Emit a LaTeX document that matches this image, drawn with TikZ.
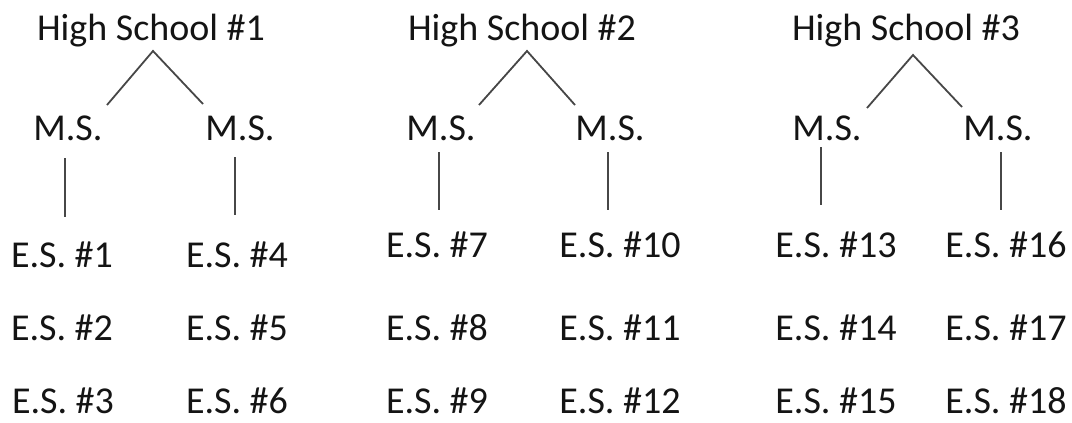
\documentclass[tikz,border=0pt]{standalone}
\usepackage{fontspec}
\setmainfont{Carlito}
\begin{document}
\begin{tikzpicture}[x=1pt,y=-1pt,
  lbl/.style={anchor=base, inner sep=0pt, font=\fontsize{38}{42}\selectfont, text=black!92},
  conn/.style={line width=1.8pt, draw=black!72}]
\useasboundingbox (0,0) rectangle (1072,423);
% Tree 1
\node[lbl] (hs1) at (151,40) {High School \#1};
\node[lbl] (ms1a) at (68,140) {M.S.};
\node[lbl] (ms1b) at (240,140) {M.S.};
\node[lbl] (es1) at (62,267) {E.S. \#1};
\node[lbl] (es2) at (62,340) {E.S. \#2};
\node[lbl] (es3) at (63,413) {E.S. \#3};
\node[lbl] (es4) at (237,267) {E.S. \#4};
\node[lbl] (es5) at (237,340) {E.S. \#5};
\node[lbl] (es6) at (237,413) {E.S. \#6};
\coordinate (t1) at (153,51);
\coordinate (t1l) at (107,105);
\coordinate (t1r) at (203,104);
\coordinate (v1a) at (65,158); \coordinate (v1ab) at (65,217);
\coordinate (v1b) at (235,157); \coordinate (v1bb) at (235,215);
\draw[conn] (t1l) -- (t1) -- (t1r);
\draw[conn] (v1a) -- (v1ab);
\draw[conn] (v1b) -- (v1bb);
% Tree 2
\node[lbl] (hs2) at (522,40) {High School \#2};
\node[lbl] (ms2a) at (441,140) {M.S.};
\node[lbl] (ms2b) at (610,140) {M.S.};
\node[lbl] (es7) at (437,257) {E.S. \#7};
\node[lbl] (es8) at (437,340) {E.S. \#8};
\node[lbl] (es9) at (437,413) {E.S. \#9};
\node[lbl] (es10) at (620,257) {E.S. \#10};
\node[lbl] (es11) at (620,340) {E.S. \#11};
\node[lbl] (es12) at (620,413) {E.S. \#12};
\coordinate (t2) at (527,51);
\coordinate (t2l) at (479,105);
\coordinate (t2r) at (575,105);
\coordinate (v2a) at (439,152); \coordinate (v2ab) at (439,210);
\coordinate (v2b) at (608,152); \coordinate (v2bb) at (608,210);
\draw[conn] (t2l) -- (t2) -- (t2r);
\draw[conn] (v2a) -- (v2ab);
\draw[conn] (v2b) -- (v2bb);
% Tree 3
\node[lbl] (hs3) at (906,40) {High School \#3};
\node[lbl] (ms3a) at (827,140) {M.S.};
\node[lbl] (ms3b) at (998,140) {M.S.};
\node[lbl] (es13) at (836,257) {E.S. \#13};
\node[lbl] (es14) at (836,340) {E.S. \#14};
\node[lbl] (es15) at (836,413) {E.S. \#15};
\node[lbl] (es16) at (1006,257) {E.S. \#16};
\node[lbl] (es17) at (1006,340) {E.S. \#17};
\node[lbl] (es18) at (1006,413) {E.S. \#18};
\coordinate (t3) at (913,55);
\coordinate (t3l) at (867,108);
\coordinate (t3r) at (962,107);
\coordinate (v3a) at (821,147); \coordinate (v3ab) at (821,205);
\coordinate (v3b) at (1001,152); \coordinate (v3bb) at (1001,210);
\draw[conn] (t3l) -- (t3) -- (t3r);
\draw[conn] (v3a) -- (v3ab);
\draw[conn] (v3b) -- (v3bb);
\end{tikzpicture}
\end{document}
